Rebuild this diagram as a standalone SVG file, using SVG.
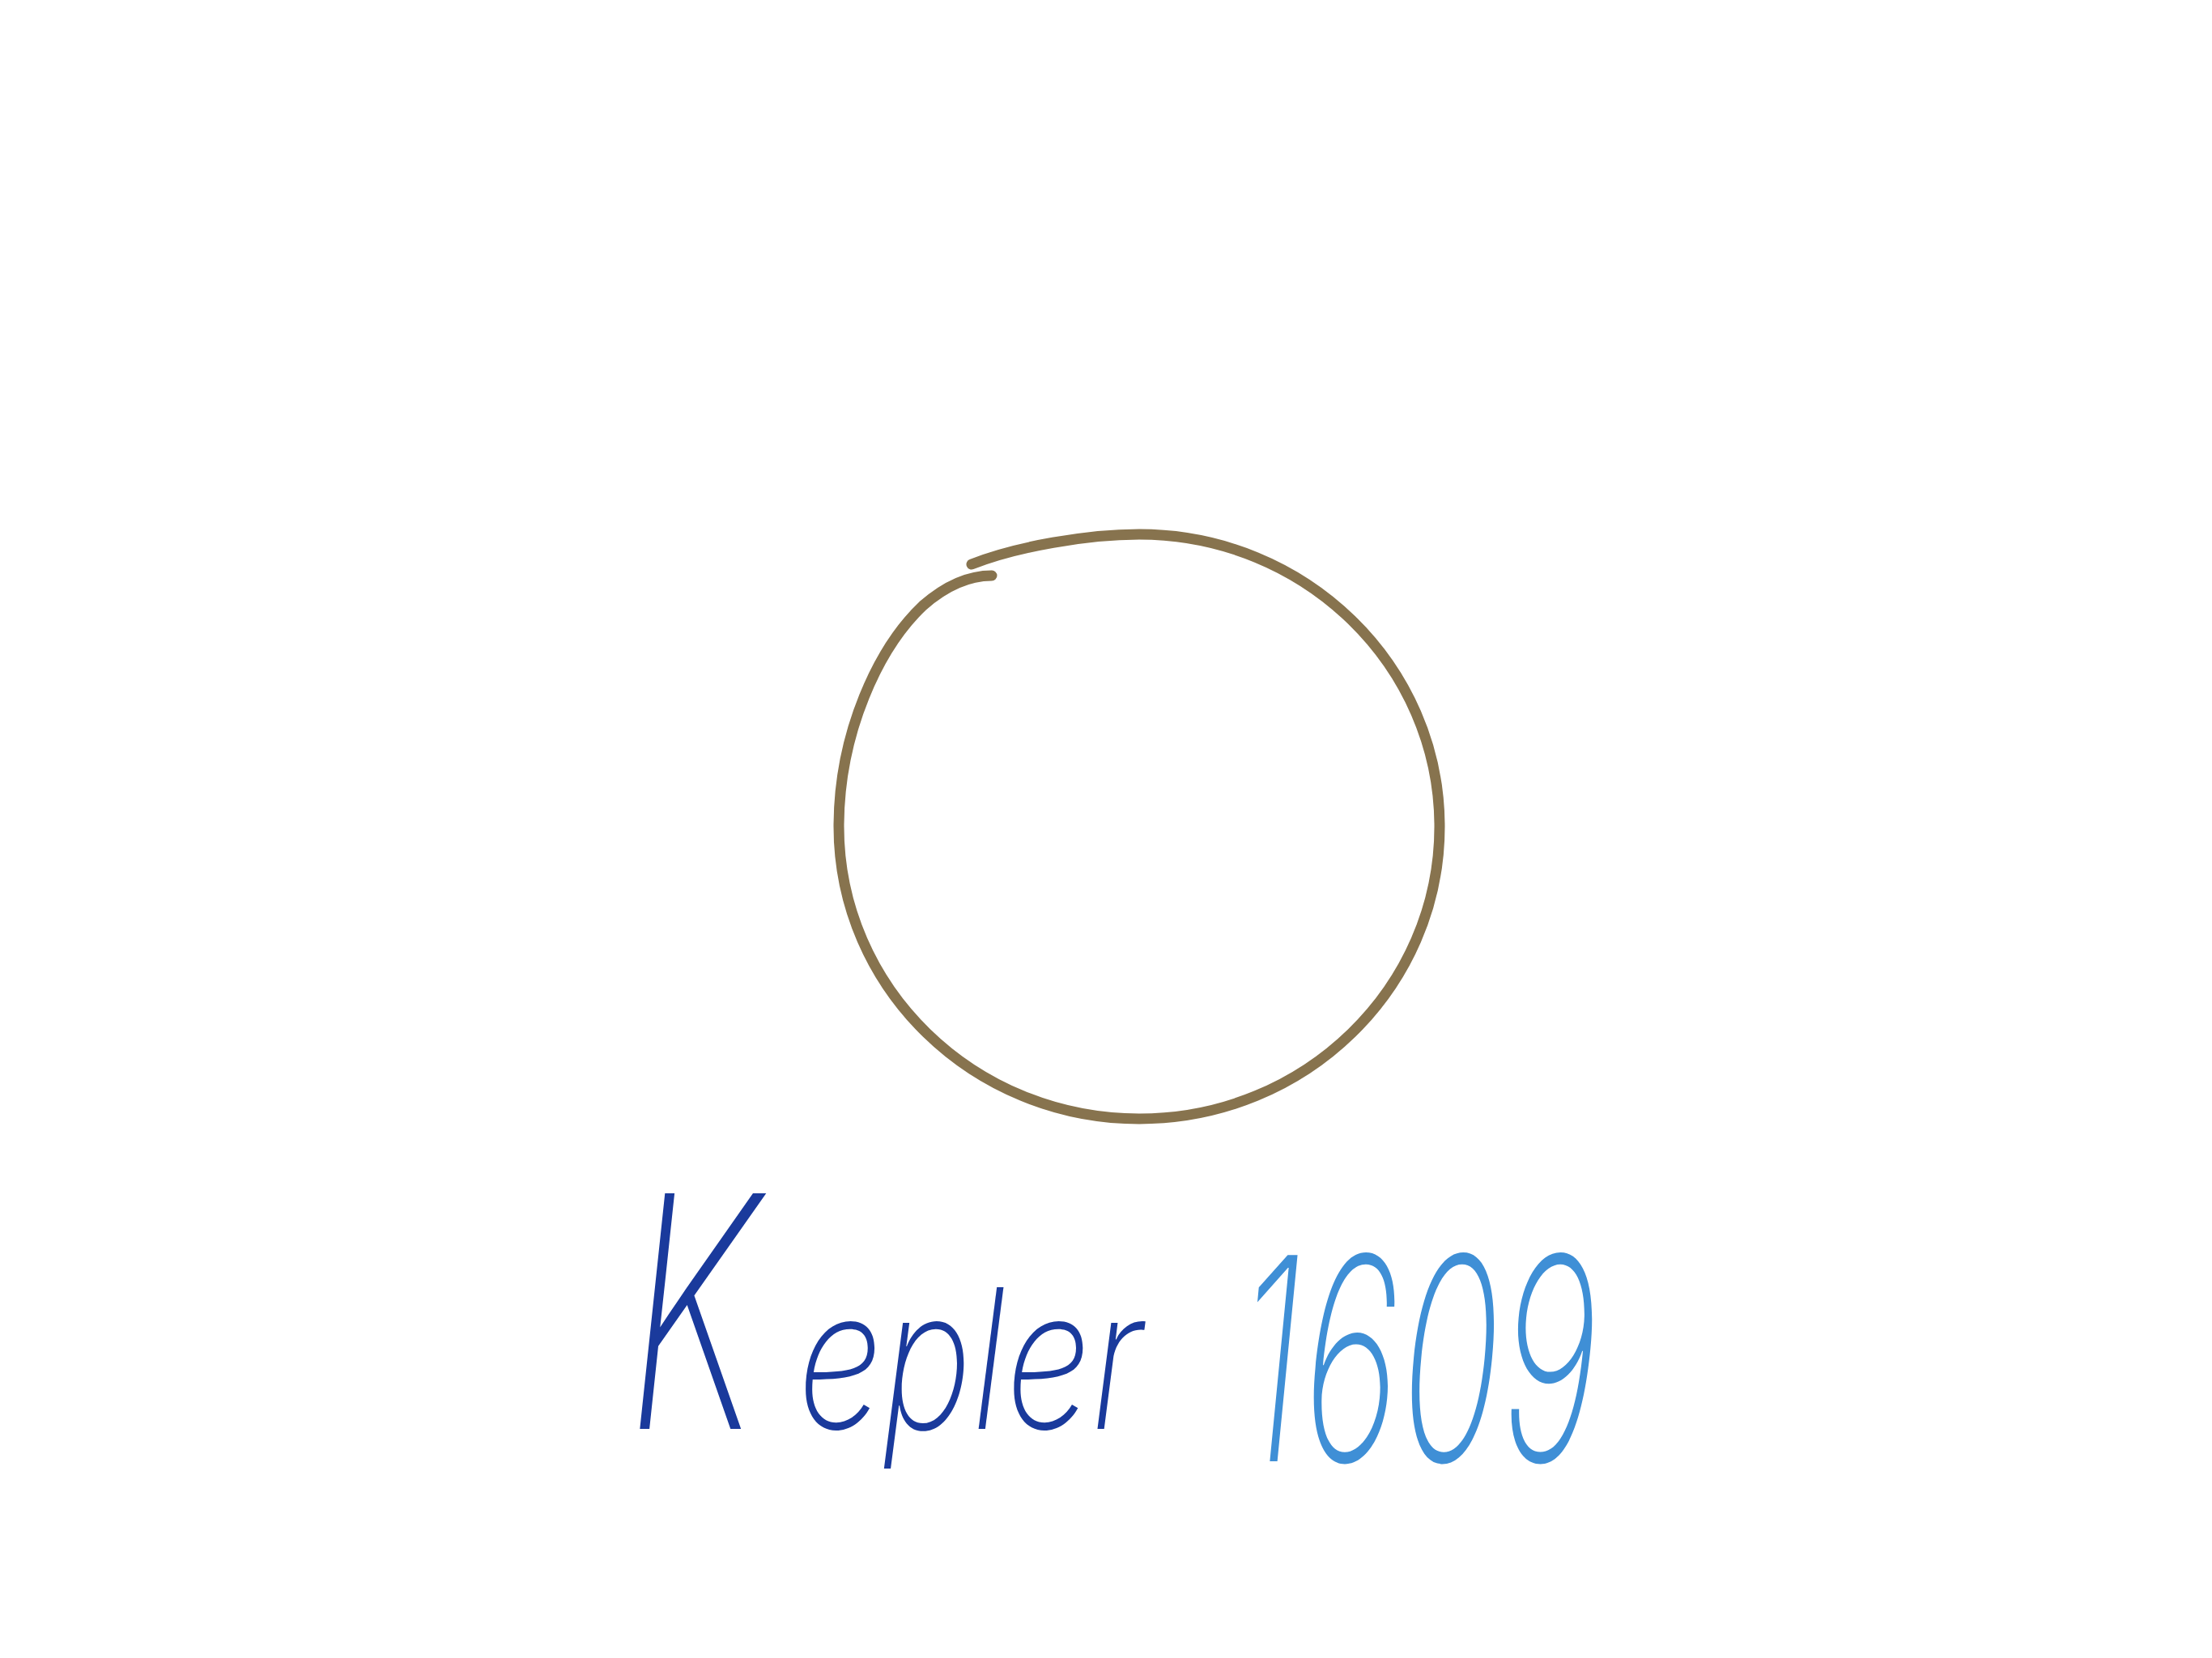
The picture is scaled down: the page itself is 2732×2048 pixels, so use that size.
<svg xmlns="http://www.w3.org/2000/svg" width="2732" height="2048" viewBox="0 0 2732 2048">
<style>
.ring{fill:none;stroke:#87734e;stroke-width:13;stroke-linecap:round;stroke-linejoin:round}
.hand{font-family:Inter,"Liberation Sans",sans-serif;font-style:italic;font-weight:200}
.name{fill:#1a3a9c}
.year{fill:#3f8fd6}
</style>
<rect width="2732" height="2048" fill="#ffffff"/>
<g id="circle">
<path class="ring" d="M1200,697 C1255,675 1344,660 1407,660 C1612,660 1778,822 1778,1021 C1778,1220 1612,1382 1407,1382 C1202,1382 1036,1220 1036,1021 C1036,905 1085,800 1140,748 C1172,720 1200,711 1225,711"/>
</g>
<g id="label-kepler">
<text class="hand name" x="775" y="1765" font-size="400" textLength="160" lengthAdjust="spacingAndGlyphs">K</text>
<text class="hand name" x="985" y="1765" font-size="240" textLength="426" lengthAdjust="spacingAndGlyphs">epler</text>
</g>
<g id="label-year">
<text class="hand year" x="1530" y="1805" font-size="350" textLength="444" lengthAdjust="spacingAndGlyphs">1609</text>
</g>
</svg>
